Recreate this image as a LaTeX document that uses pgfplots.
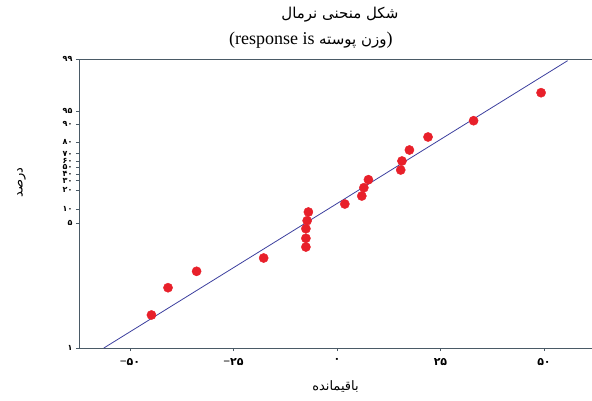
\documentclass[border=0pt]{standalone}
\usepackage{pgfplots}
\pgfplotsset{compat=1.18}
\usepackage{fontspec}
\setmainfont{Liberation Serif}
\newfontfamily\arabicfont[Script=Arabic]{DejaVu Sans}
\TeXXeTstate=1
\definecolor{ptred}{HTML}{E8202A}
\definecolor{lineblue}{HTML}{3C3F9E}
\definecolor{axisgray}{HTML}{4A5A66}
\newcommand{\pd}[1]{{\arabicfont\bfseries #1}}
\newcommand{\mn}{{\fontsize{12}{12}\selectfont\bfseries −}}
\begin{document}
\begin{tikzpicture}
\begin{axis}[
  scale only axis, width=513pt, height=289pt,
  xmin=-62.3, xmax=61.6, ymin=0, ymax=289,
  axis x line=box, axis y line=left,
  axis line style={-, axisgray, line width=0.9pt},
  xtick pos=left, ytick pos=left,
  tick align=outside, major tick length=3pt,
  tick style={axisgray, line width=0.6pt},
  xtick={-50,-25,0,25,50},
  xticklabels={{\mn\pd{۵۰}},{\mn\pd{۲۵}},\pd{۰},\pd{۲۵},\pd{۵۰}},
  ytick={0,125,139,158,167.3,174,181,186.7,194.3,206,224,236.7,289},
  yticklabels={\pd{۱},\pd{۵},\pd{۱۰},\pd{۲۰},\pd{۳۰},\pd{۴۰},\pd{۵۰},\pd{۶۰},\pd{۷۰},\pd{۸۰},\pd{۹۰},\pd{۹۵},\pd{۹۹}},
  xticklabel style={font=\fontsize{11}{11}\selectfont, yshift=-4pt},
  yticklabel style={font=\fontsize{8}{8}\selectfont, inner ysep=0pt},
  xlabel={\arabicfont\beginR باقیمانده\endR},
  ylabel={\arabicfont\beginR درصد\endR},
  xlabel style={font=\fontsize{13}{13}\selectfont, yshift=-8pt},
  ylabel style={font=\fontsize{13}{13}\selectfont, yshift=30pt, xshift=21pt},
  clip=false,
]
\addplot[lineblue, line width=0.8pt] coordinates {(-56.3,0) (55.7,287.3)};
\addplot[only marks, mark=*, mark size=4.6pt, color=ptred] table {
x y
-44.8 33
-40.8 60.3
-33.9 76.7
-17.7 90
-7.5 101
-7.5 109.7
-7.5 119.3
-7.2 127.3
-6.9 136
1.9 144
6.0 152
6.5 160.3
7.6 168.3
15.4 178
15.7 187
17.5 198
22.0 211
33.0 227.3
49.3 255.3
};
\node[font=\fontsize{15}{15}\selectfont\arabicfont] at (axis cs:0.7,333) {\beginR شکل منحنی نرمال\endR};
\node[font=\fontsize{18}{18}\selectfont] at (axis cs:-6.3,308) {(response is {\fontsize{15}{15}\selectfont\arabicfont\beginR وزن پوسته\endR})};
\end{axis}
\pgfresetboundingbox
\path (current axis.south west) ++(-79pt,-52pt) rectangle ++(592pt,400pt);
\end{tikzpicture}
\end{document}
